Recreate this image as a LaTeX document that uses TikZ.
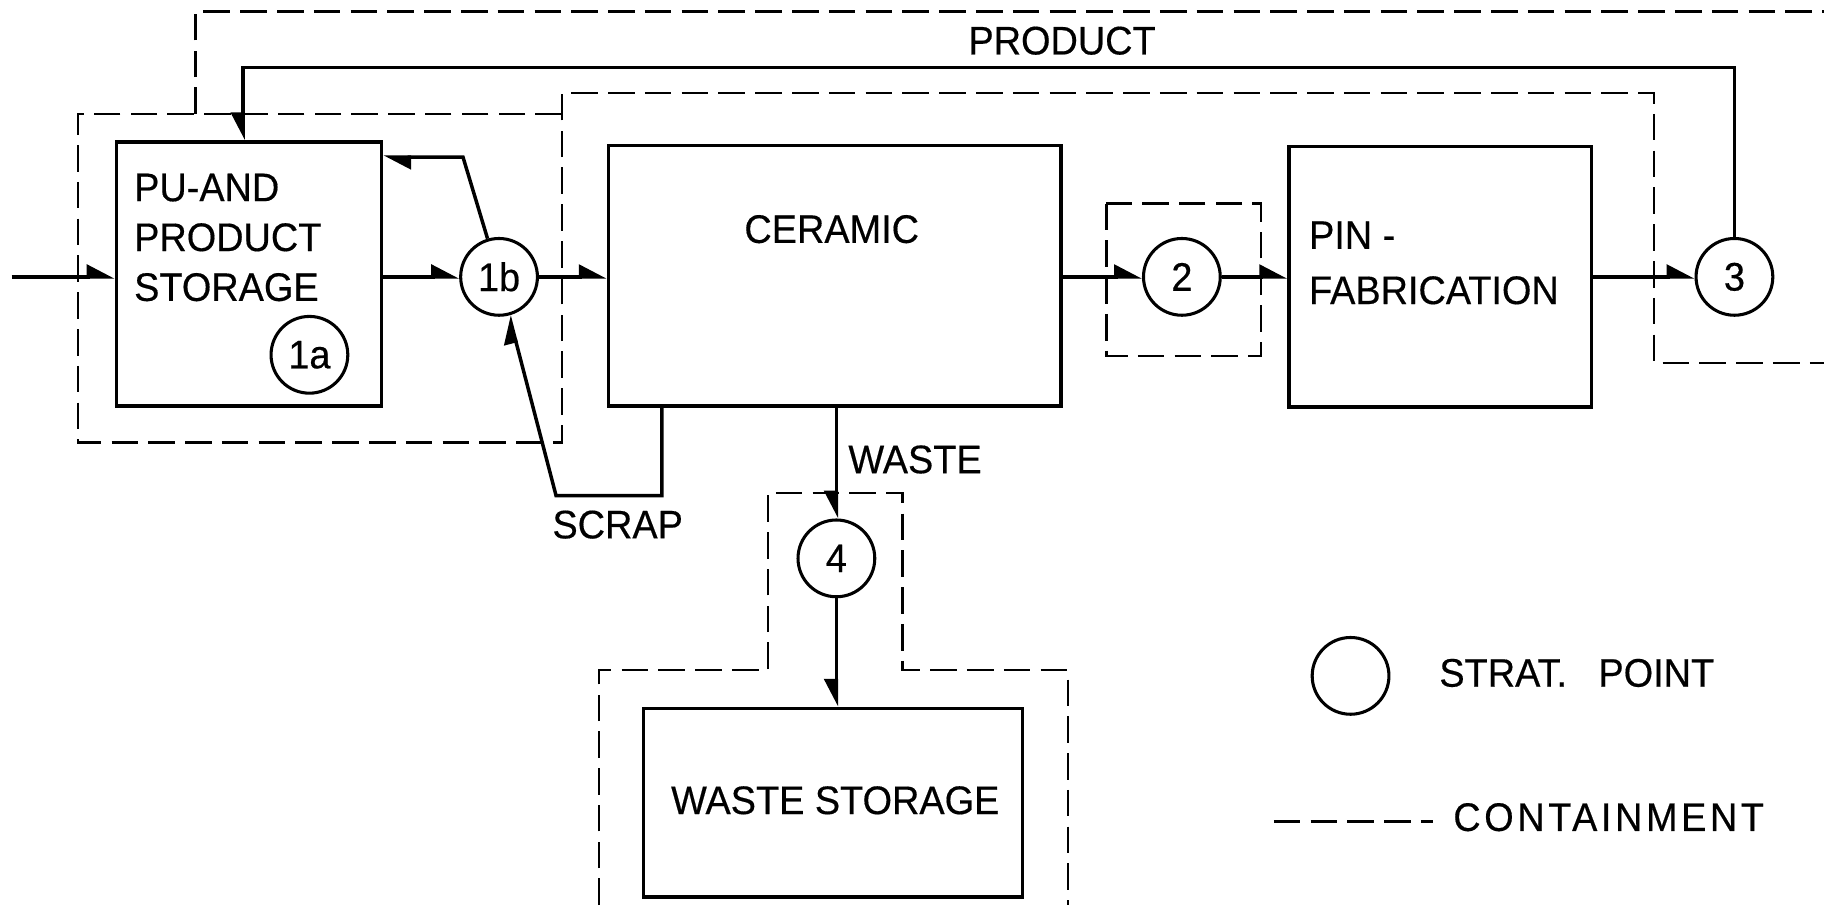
\documentclass[tikz,border=0pt]{standalone}
\usepackage{fontspec}
\setmainfont{Liberation Sans}[FakeStretch=0.95, FakeBold=0.4]
\usetikzlibrary{arrows.meta}
\newcommand{\lettering}{\fontsize{19.5}{24.4}\selectfont}
\tikzset{
  flow/.style={line width=1.7pt, -{Triangle[left, length=0.42cm, width=0.42cm]}},
  flowdown/.style={line width=1.7pt, -{Triangle[right, length=0.42cm, width=0.42cm]}},
  contain/.style={line width=1.2pt, dash pattern=on 13pt off 5pt},
  unit/.style={draw, line width=1.7pt, inner sep=0pt},
  strat/.style={draw, circle, line width=1.5pt, minimum size=1.32cm, inner sep=0pt, font=\lettering},
  lbl/.style={inner sep=0pt, font=\lettering},
}

\begin{document}
\begin{tikzpicture}[x=0.02cm, y=-0.02cm]
\useasboundingbox (0,0) rectangle (1568,778);
% process units
\node[unit, minimum width=4.56cm, minimum height=4.54cm] (S) at (214,235.5) {};
\node[unit, minimum width=7.78cm, minimum height=4.48cm] (C) at (717.5,237) {};
\node[unit, minimum width=5.2cm, minimum height=4.48cm] (P) at (1238,238) {};
\node[unit, minimum width=6.52cm, minimum height=3.24cm] (W) at (716,690) {};
\node[lbl, anchor=north west, align=left] (Stxt) at (115,149) {PU-AND\\PRODUCT\\STORAGE};
\node[lbl] (Ctxt) at (715,197) {CERAMIC};
\node[lbl, anchor=north west, align=left] (Ptxt) at (1125,190) {PIN -\\[2.6pt]FABRICATION};
\node[lbl] (Wtxt) at (718,688) {WASTE STORAGE};
% strat. points
\node[strat] (p1a) at (266,305) {1a};
\node[strat] (p1b) at (429,238) {1b};
\node[strat] (p2) at (1016,238) {2};
\node[strat] (p3) at (1491,238) {3};
\node[strat] (p4) at (719,480) {4};
% main flow
\coordinate (in) at (10,238);
\draw[flow] (in) -- (in -| S.west);
\draw[flow] (p1b -| S.east) -- (p1b);
\draw[flow] (p1b) -- (p1b -| C.west);
\draw[flow] (p2 -| C.east) -- (p2);
\draw[flow] (p2) -- (p2 -| P.west);
\draw[flow] (p3 -| P.east) -- (p3);
% product return
\coordinate (prodL) at (209,58);
\draw[flowdown] (p3) |- (prodL) -- (prodL |- S.north);
\node[lbl] (prodlbl) at (913,35) {PRODUCT};
% back to storage
\coordinate (ret) at (398,135);
\draw[flow] (p1b) -- (ret) -- (ret -| S.east);
% scrap
\coordinate (scrapR) at (569,426);
\coordinate (scrapL) at (478,426);
\draw[flow] (scrapR |- C.south) -- (scrapR) -- (scrapL) -- (p1b);
\node[lbl] (scraplbl) at (531,451) {SCRAP};
% waste
\draw[flowdown] (p4 |- C.south) -- (p4);
\draw[flowdown] (p4) -- (p4 |- W.north);
\node[lbl, anchor=west] (wastelbl) at (729,395) {WASTE};
% containment
\draw[contain] (168,98) -- (168,10) -- (1568,10);
\draw[contain] (483,98) -- (67,98) -- (67,380.5) -- (483,380.5) -- (483,80) -- (1422,80) -- (1422,312) -- (1568,312);
\draw[contain] (951,175) rectangle (1084,306);
\draw[contain] (515,778) -- (515,576) -- (660,576) -- (660,424) -- (776,424) -- (776,576) -- (918,576) -- (918,778);
% legend
\node[strat] (key) at (1161,581) {};
\node[lbl, anchor=west] (keytxt) at (1237,578.5) {STRAT.\hspace{0.36cm} POINT};
\coordinate (dashA) at (1095,706);
\coordinate (dashB) at (1232,706);
\draw[contain] (dashA) -- (dashB);
\node[lbl, anchor=west] (containtxt) at (1249,702.5) {\addfontfeatures{LetterSpace=9}CONTAINMENT};
\end{tikzpicture}
\end{document}
